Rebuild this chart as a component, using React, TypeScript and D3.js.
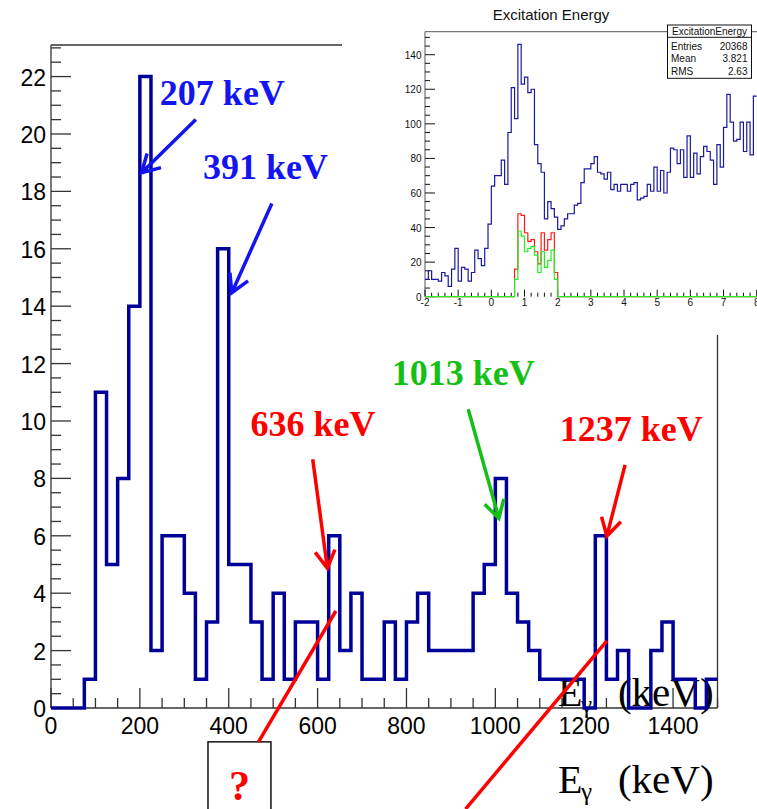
import React from "react";
import * as d3 from "d3";

// gamma spectrum, 25 keV bins starting at 0
const gammaBinWidth = 25;
const gammaCounts = [
  0, 0, 0, 1, 11, 5, 8, 14, 22, 2, 6, 6, 4, 1, 3, 16, 5, 5, 3, 1,
  4, 1, 3, 3, 1, 6, 2, 4, 1, 1, 3, 1, 3, 4, 2, 2, 2, 2, 4, 5,
  8, 4, 3, 2, 1, 1, 1, 1, 0, 6, 1, 2, 0, 0, 2, 3, 1, 1, 0, 1,
];
const gammaXTicks = [0, 200, 400, 600, 800, 1000, 1200, 1400];
const gammaYTicks = [0, 2, 4, 6, 8, 10, 12, 14, 16, 18, 20, 22];

// excitation energy inset, 0.1 MeV bins from -2 to 8
const excStart = -2;
const excBinWidth = 0.1;
const excAll = [
  10, 15, 10, 10, 9, 14, 12, 6, 16, 28,
  9, 17, 16, 9, 14, 27, 22, 18, 28, 42,
  64, 70, 70, 79, 65, 95, 121, 103, 146, 123,
  127, 118, 120, 88, 77, 72, 45, 55, 51, 46,
  39, 41, 45, 48, 48, 53, 54, 66, 74, 74,
  77, 81, 72, 71, 68, 72, 62, 65, 61, 65,
  65, 61, 65, 66, 56, 57, 58, 65, 61, 75,
  61, 73, 60, 72, 86, 85, 77, 85, 69, 93,
  69, 83, 71, 81, 87, 84, 79, 65, 88, 75,
  98, 117, 101, 90, 91, 101, 84, 101, 82, 116,
];
const gateFirstBin = 27; // 0.7 MeV
const excRed = [16, 48, 47, 37, 32, 33, 26, 19, 37, 27, 33, 37, 14];
const excGreen = [10, 38, 35, 26, 28, 29, 24, 14, 26, 17, 21, 27, 10];
const excXTicks = [-2, -1, 0, 1, 2, 3, 4, 5, 6, 7, 8];
const excYTicks = [0, 20, 40, 60, 80, 100, 120, 140];
const statNames = ["Entries", "Mean", "RMS"];
const statValues = ["20368", "3.821", "2.63"];

const peakLabels = ["207 keV", "391 keV", "636 keV", "1013 keV", "1237 keV"];
const peakColors = ["#1414f0", "#1414f0", "#ff0000", "#14c014", "#ff0000"];

const SANS = "'Liberation Sans', Arial, Helvetica, sans-serif";
const SERIF = "'Liberation Serif', 'Times New Roman', serif";

function stepPoints(counts: number[], start: number, bw: number) {
  const pts: [number, number][] = [];
  counts.forEach((c, i) => {
    pts.push([start + i * bw, c]);
    pts.push([start + (i + 1) * bw, c]);
  });
  return pts;
}

function arrowPath(x1: number, y1: number, x2: number, y2: number, len = 20) {
  const a = Math.atan2(y1 - y2, x1 - x2);
  const h1 = [x2 + len * Math.cos(a + 0.52), y2 + len * Math.sin(a + 0.52)];
  const h2 = [x2 + len * Math.cos(a - 0.52), y2 + len * Math.sin(a - 0.52)];
  return `M${x1},${y1}L${x2},${y2}M${h1[0]},${h1[1]}L${x2},${y2}L${h2[0]},${h2[1]}`;
}

export default function App() {
  const W = 757;
  const H = 809;

  // main plot
  const x = d3.scaleLinear().domain([0, 1500]).range([51, 717.5]);
  const y = d3.scaleLinear().domain([0, 23.1]).range([708, 45]);
  const line = d3
    .line<[number, number]>()
    .x((d) => x(d[0]))
    .y((d) => y(d[1]));
  const mainPath = line(stepPoints(gammaCounts, 0, gammaBinWidth)) || "";
  const xMinor = d3.range(0, 1501, 50);
  const yMinor = d3.range(0, 23.01, 0.5);

  // annotations in user coordinates (keV, counts)
  const notes = [
    { tx: 245, ty: 21.0, ax: [326, 20.5, 204, 18.65] },
    { tx: 342, ty: 18.43, ax: [497, 17.58, 407, 14.47] },
    { tx: 449, ty: 9.48, ax: [589, 8.67, 622, 4.87] },
    { tx: 767, ty: 11.25, ax: [939, 10.41, 1008, 6.61] },
    { tx: 1145, ty: 9.31, ax: [1292, 8.47, 1251, 5.99] },
  ];

  // inset
  const ix = d3.scaleLinear().domain([-2, 8]).range([425, 756.7]);
  const iy = d3.scaleLinear().domain([0, 153.3]).range([296.7, 31.7]);
  const iline = d3
    .line<[number, number]>()
    .x((d) => ix(d[0]))
    .y((d) => iy(d[1]));
  const redFull = excAll.map((_, i) => excRed[i - gateFirstBin] ?? 0);
  const greenFull = excAll.map((_, i) => excGreen[i - gateFirstBin] ?? 0);
  const blueP = iline(stepPoints(excAll, excStart, excBinWidth)) || "";
  const redP = iline(stepPoints(redFull, excStart, excBinWidth)) || "";
  const greenP = iline(stepPoints(greenFull, excStart, excBinWidth)) || "";
  const ixMinor = d3.range(-2, 8.001, 0.2);
  const iyMinor = d3.range(0, 151, 5);

  return (
    <svg
      width={W}
      height={H}
      style={{ position: "absolute", left: 0, top: 0, background: "#fff" }}
    >
      {/* frame */}
      <g stroke="#333" strokeWidth={1.3} fill="none">
        <line x1={x(0)} x2={x(1500)} y1={y(23.1)} y2={y(23.1)} />
        <line x1={x(1500)} x2={x(1500)} y1={y(23.1)} y2={y(0)} />
        <line x1={x(0)} x2={x(0)} y1={y(23.1)} y2={y(0)} />
        <line x1={x(0)} x2={x(1500)} y1={y(0)} y2={y(0)} />
        {xMinor.map((v) => (
          <line
            key={"xm" + v}
            x1={x(v)}
            x2={x(v)}
            y1={y(0)}
            y2={y(0) - (v % 200 === 0 ? 20 : 10)}
          />
        ))}
        {yMinor.map((v) => (
          <line
            key={"ym" + v}
            x1={x(0)}
            x2={x(0) + (v % 2 === 0 ? 20 : 10)}
            y1={y(v)}
            y2={y(v)}
          />
        ))}
      </g>
      <g fontFamily={SANS} fontSize={23} fill="#000">
        {gammaXTicks.map((v) => (
          <text key={"xl" + v} x={x(v)} y={734} textAnchor="middle">
            {v}
          </text>
        ))}
        {gammaYTicks.map((v) => (
          <text key={"yl" + v} x={46} y={y(v) + 9} textAnchor="end">
            {v}
          </text>
        ))}
      </g>

      {/* axis title inside the frame */}
      <g fontFamily={SERIF} fill="#000">
        <text x={x(1141)} y={y(0.07)} fontSize={40}>
          E
        </text>
        <text x={x(1193)} y={y(0.07) + 7} fontSize={25}>
          γ
        </text>
        <text x={x(1276)} y={y(0.07)} fontSize={41}>
          (keV)
        </text>
      </g>

      <path
        d={mainPath}
        fill="none"
        stroke="#000099"
        strokeWidth={3.5}
        strokeLinejoin="miter"
      />

      {/* peak labels */}
      {notes.map((n, i) => (
        <g key={"n" + i}>
          <text
            x={x(n.tx)}
            y={y(n.ty)}
            fontFamily={SERIF}
            fontWeight="bold"
            fontSize={36}
            fill={peakColors[i]}
          >
            {peakLabels[i]}
          </text>
          <path
            d={arrowPath(x(n.ax[0]), y(n.ax[1]), x(n.ax[2]), y(n.ax[3]))}
            fill="none"
            stroke={peakColors[i]}
            strokeWidth={3.5}
          />
        </g>
      ))}

      {/* inset */}
      <rect x={342} y={0} width={W - 342} height={335} fill="#fff" />
      <text
        x={551}
        y={19.5}
        fontFamily={SANS}
        fontSize={15}
        textAnchor="middle"
        fill="#111"
      >
        Excitation Energy
      </text>
      <g stroke="#555" strokeWidth={1} fill="none">
        <line x1={ix(-2)} x2={ix(-2)} y1={iy(153.3)} y2={iy(0)} />
        <line x1={ix(-2)} x2={W} y1={iy(153.3)} y2={iy(153.3)} />
      </g>
      <g stroke="#111" strokeWidth={1}>
        {ixMinor.map((v, i) => (
          <line
            key={"ixm" + i}
            x1={ix(v)}
            x2={ix(v)}
            y1={iy(0)}
            y2={iy(0) - (i % 5 === 0 ? 7 : 4)}
          />
        ))}
        {iyMinor.map((v) => (
          <line
            key={"iym" + v}
            x1={ix(-2)}
            x2={ix(-2) + (v % 20 === 0 ? 10 : 5)}
            y1={iy(v)}
            y2={iy(v)}
          />
        ))}
      </g>
      <g fontFamily={SANS} fontSize={10} fill="#111">
        {excXTicks.map((v) => (
          <text key={"ixl" + v} x={ix(v)} y={305.5} textAnchor="middle">
            {v}
          </text>
        ))}
        {excYTicks.map((v) => (
          <text key={"iyl" + v} x={421.5} y={iy(v) + 4} textAnchor="end">
            {v}
          </text>
        ))}
      </g>
      <path d={blueP} fill="none" stroke="#1a1aa0" strokeWidth={1.2} />
      <path d={redP} fill="none" stroke="#ff1a1a" strokeWidth={1.2} />
      <path d={greenP} fill="none" stroke="#22ee22" strokeWidth={1.2} />

      {/* stats box */}
      <g fontFamily={SANS} fontSize={10} fill="#111">
        <rect
          x={667.5}
          y={25}
          width={84}
          height={53.3}
          fill="#fff"
          stroke="#111"
          strokeWidth={1}
        />
        <line x1={667.5} x2={751.5} y1={37.3} y2={37.3} stroke="#111" />
        <text x={709.5} y={35} textAnchor="middle">
          ExcitationEnergy
        </text>
        {statNames.map((s, i) => (
          <g key={s}>
            <text x={671} y={49.5 + i * 12.5}>
              {s}
            </text>
            <text x={747.5} y={49.5 + i * 12.5} textAnchor="end">
              {statValues[i]}
            </text>
          </g>
        ))}
      </g>

      {/* question box and connecting lines */}
      <rect
        x={x(353.3)}
        y={y(-1.18)}
        width={x(495) - x(353.3)}
        height={80}
        fill="none"
        stroke="#111"
        strokeWidth={1.5}
      />
      <text
        x={x(424)}
        y={y(-3.2)}
        fontFamily={SERIF}
        fontWeight="bold"
        fontSize={42}
        fill="#ff0000"
        textAnchor="middle"
      >
        ?
      </text>
      <g stroke="#ff0000" strokeWidth={3.5}>
        <line x1={x(641)} y1={y(3.38)} x2={x(467)} y2={y(-1.18)} />
        <line x1={x(1251)} y1={y(2.34)} x2={x(933)} y2={y(-3.52)} />
      </g>

      {/* lower axis title */}
      <g fontFamily={SERIF} fill="#000">
        <text x={x(1141)} y={y(-2.96)} fontSize={40}>
          E
        </text>
        <text x={x(1193)} y={y(-2.96) + 7} fontSize={25}>
          γ
        </text>
        <text x={x(1276)} y={y(-2.96)} fontSize={41}>
          (keV)
        </text>
      </g>
    </svg>
  );
}
